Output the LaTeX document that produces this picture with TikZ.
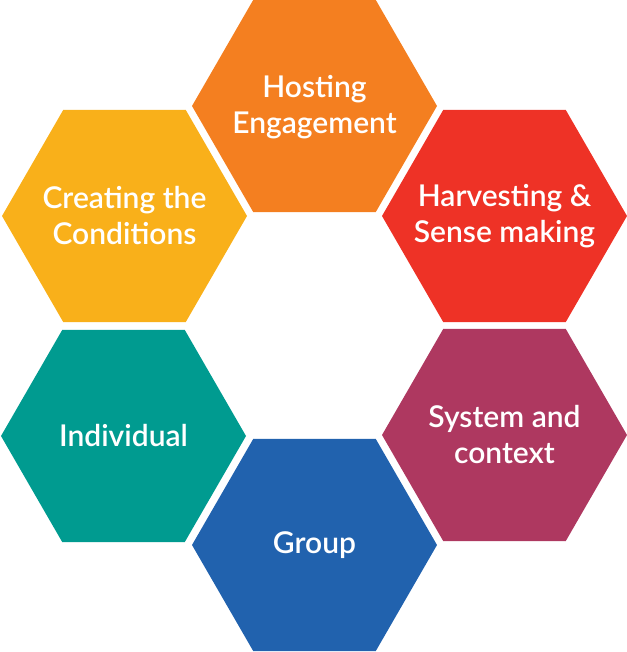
\documentclass[tikz,border=0pt]{standalone}
\usepackage{fontspec}
\setmainfont{Lato}
\newfontfamily\hexfont{Lato Semibold}
\usetikzlibrary{shapes.geometric}
\definecolor{hostorange}{HTML}{F47F20}
\definecolor{condyellow}{HTML}{F9B01A}
\definecolor{harvred}{HTML}{EE3226}
\definecolor{indteal}{HTML}{009B90}
\definecolor{sysplum}{HTML}{AE3860}
\definecolor{grpblue}{HTML}{2162AE}
\begin{document}
\begin{tikzpicture}[x=0.75pt,y=-0.75pt,
  hexcell/.style={regular polygon, regular polygon sides=6, minimum size=183.75pt,
    inner sep=0pt, outer sep=0pt},
  hexlabel/.style={inner sep=0pt, text=white, align=center,
    font=\hexfont\fontsize{22.5}{27}\selectfont}]
\useasboundingbox (0,0) rectangle (627,652);
\node[hexcell, fill=hostorange] (host) at (314.5,106) {};
\node[hexcell, fill=condyellow] (cond) at (124.5,216) {};
\node[hexcell, fill=harvred] (harv) at (504.5,216) {};
\node[hexcell, fill=indteal] (ind) at (123.5,436) {};
\node[hexcell, fill=sysplum] (sys) at (504.5,435) {};
\node[hexcell, fill=grpblue] (grp) at (314.5,545) {};
\node[hexlabel] (hostt) at ([yshift=-1pt]host.center) {Hosting\\Engagement};
\node[hexlabel] (condt) at (cond.center) {Creating the\\Conditions};
\node[hexlabel] (harvt) at (harv.center) {Harvesting \&\\Sense making};
\node[hexlabel] (indt) at (ind.center) {Individual};
\node[hexlabel] (syst) at ([yshift=0.5pt]sys.center) {System and\\context};
\node[hexlabel] (grpt) at (grp.center) {Group};
\end{tikzpicture}
\end{document}
